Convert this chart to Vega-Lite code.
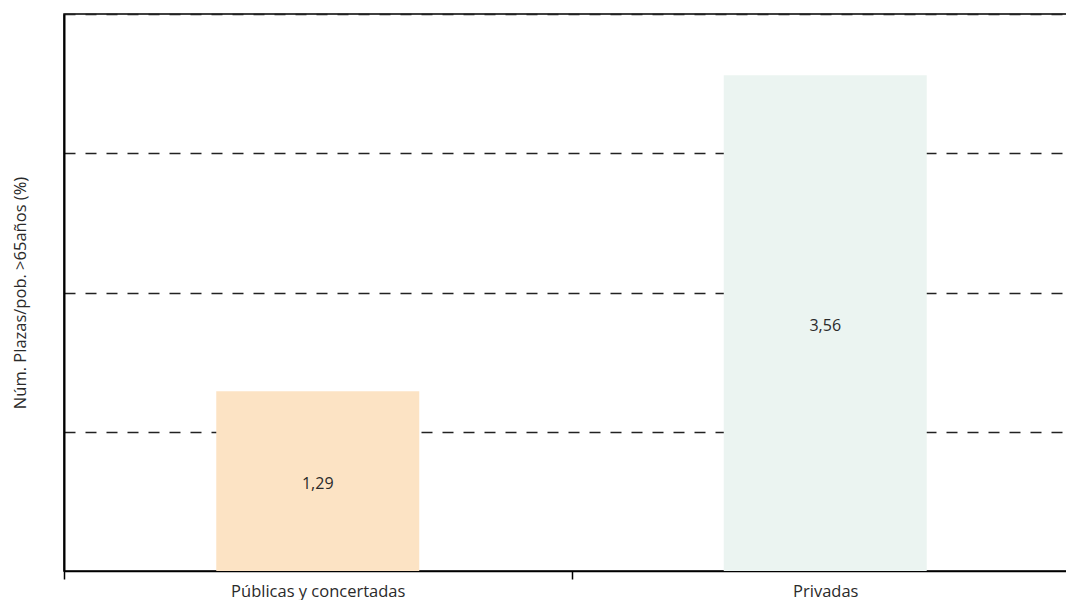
{
  "$schema": "https://vega.github.io/schema/vega-lite/v6.json",
  "autosize": "none",
  "width": 1015,
  "height": 557,
  "padding": {"left": 64, "top": 14, "right": 0, "bottom": 29},
  "background": "white",
  "config": {
    "locale": {"number": {"decimal": ",", "thousands": ".", "grouping": [3], "currency": ["", " €"]}},
    "view": {"stroke": "black", "strokeWidth": 1.5},
    "font": "Open Sans"
  },
  "data": {
    "values": [
      {"tipo": "Públicas y concertadas", "valor": 1.29},
      {"tipo": "Privadas", "valor": 3.56}
    ]
  },
  "transform": [{"calculate": "datum.valor / 2", "as": "mid"}],
  "encoding": {
    "x": {
      "field": "tipo",
      "type": "nominal",
      "sort": null,
      "scale": {"paddingInner": 0, "paddingOuter": 0},
      "axis": {
        "title": null,
        "labelAngle": 0,
        "labelFont": "Open Sans",
        "labelFontSize": 16.5,
        "labelColor": "#2a2a2a",
        "labelPadding": 4,
        "tickBand": "extent",
        "ticks": true,
        "tickSize": 8,
        "tickColor": "black",
        "tickWidth": 1.5,
        "domainColor": "black",
        "domainWidth": 1.5,
        "grid": false
      }
    }
  },
  "layer": [
    {
      "mark": {"type": "bar", "width": {"band": 0.4}},
      "encoding": {
        "y": {
          "field": "valor",
          "type": "quantitative",
          "scale": {"domain": [0, 4], "nice": false},
          "axis": {
            "title": "Núm. Plazas/pob. >65años (%)",
            "titleFont": "Open Sans",
            "titleFontWeight": "normal",
            "titleFontSize": 16.5,
            "titleColor": "#2a2a2a",
            "titleX": -36,
            "labels": false,
            "ticks": false,
            "values": [1, 2, 3, 4],
            "grid": true,
            "gridColor": "#222222",
            "gridDash": [11, 10],
            "gridWidth": 1.4,
            "domainColor": "black",
            "domainWidth": 2,
            "zindex": 0
          }
        },
        "color": {
          "field": "tipo",
          "type": "nominal",
          "scale": {"domain": ["Públicas y concertadas", "Privadas"], "range": ["#FCE3C4", "#EBF4F1"]},
          "legend": null
        }
      }
    },
    {
      "mark": {"type": "text", "font": "Open Sans", "fontSize": 16, "color": "#2a2a2a", "dy": 3},
      "encoding": {
        "y": {"field": "mid", "type": "quantitative", "scale": {"domain": [0, 4], "nice": false}},
        "text": {"field": "valor", "type": "quantitative", "format": ".2f"}
      }
    }
  ]
}
